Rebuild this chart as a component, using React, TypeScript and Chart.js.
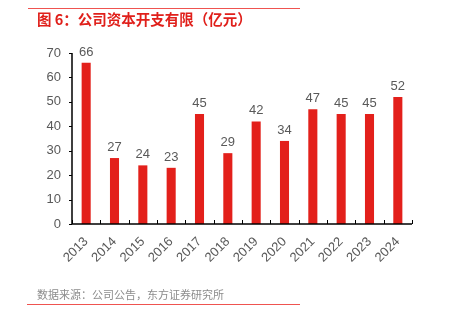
import React, { useEffect, useRef } from "react";
import { Chart, registerables } from "chart.js";

Chart.register(...registerables);

const categories = ["2013", "2014", "2015", "2016", "2017", "2018", "2019", "2020", "2021", "2022", "2023", "2024"];
const capex = [66, 27, 24, 23, 45, 29, 42, 34, 47, 45, 45, 52];
const yTicks = [0, 10, 20, 30, 40, 50, 60, 70];
const titleText = "图 6：公司资本开支有限（亿元）";
const sourceText = "数据来源：公司公告，东方证券研究所";

const RED = "#E3201B";
const GREY = "#595959";

const decorPlugin = {
  id: "decor",
  afterDraw(chart: any) {
    const ctx = chart.ctx;
    const xs = chart.scales.x;
    const ys = chart.scales.y;
    const area = chart.chartArea;
    ctx.save();
    ctx.strokeStyle = "#EF5350";
    ctx.lineWidth = 1.2;
    ctx.beginPath();
    ctx.moveTo(28, 8.5);
    ctx.lineTo(300, 8.5);
    ctx.moveTo(27, 304.5);
    ctx.lineTo(300, 304.5);
    ctx.stroke();
    ctx.fillStyle = "#E0201B";
    ctx.font = "bold 14.5px 'Noto Sans CJK SC', sans-serif";
    ctx.textBaseline = "middle";
    ctx.textAlign = "left";
    ctx.fillText(titleText, 37, 19);
    ctx.fillStyle = "#8C8C8C";
    ctx.font = "11px 'Noto Sans CJK SC', sans-serif";
    ctx.fillText(sourceText, 37, 295);
    ctx.strokeStyle = "#000";
    ctx.lineWidth = 1.5;
    ctx.beginPath();
    ctx.moveTo(area.left, ys.getPixelForValue(70));
    ctx.lineTo(area.left, area.bottom);
    ctx.lineTo(area.right, area.bottom);
    ctx.stroke();
    ctx.lineWidth = 1;
    ctx.beginPath();
    for (const v of yTicks) {
      const y = Math.round(ys.getPixelForValue(v)) + 0.5;
      ctx.moveTo(area.left - 3, y);
      ctx.lineTo(area.left, y);
    }
    for (let i = 0; i <= categories.length; i++) {
      const x = Math.round(xs.getPixelForValue(i - 0.5)) + 0.5;
      ctx.moveTo(x, area.bottom);
      ctx.lineTo(x, area.bottom - 4);
    }
    ctx.stroke();
    ctx.fillStyle = GREY;
    ctx.font = "13px 'Liberation Sans', Arial, sans-serif";
    ctx.textAlign = "center";
    ctx.textBaseline = "bottom";
    const meta = chart.getDatasetMeta(0);
    meta.data.forEach((bar: any, i: number) => {
      ctx.fillText(String(capex[i]), bar.x, bar.y - 4);
    });
    ctx.restore();
  },
};

export default function App() {
  const ref = useRef<HTMLCanvasElement | null>(null);
  useEffect(() => {
    if (!ref.current) return;
    const chart = new Chart(ref.current, {
      type: "bar",
      data: {
        labels: categories,
        datasets: [
          {
            data: capex,
            backgroundColor: RED,
            barPercentage: 0.32,
            categoryPercentage: 1,
          },
        ],
      },
      options: {
        animation: false,
        responsive: false,
        devicePixelRatio: 1,
        layout: { padding: { left: 32, right: 43, top: 53, bottom: 49 } },
        plugins: { legend: { display: false }, tooltip: { enabled: false } },
        scales: {
          x: {
            grid: { display: false },
            border: { display: false },
            ticks: {
              color: GREY,
              font: { size: 13, family: "'Liberation Sans', Arial, sans-serif" },
              minRotation: 45,
              maxRotation: 45,
              padding: 2,
              autoSkip: false,
            },
            afterFit(scale: any) {
              scale.height = 50;
            },
          },
          y: {
            min: 0,
            max: 70,
            grid: { display: false },
            border: { display: false },
            ticks: {
              stepSize: 10,
              color: GREY,
              font: { size: 13, family: "'Liberation Sans', Arial, sans-serif" },
              padding: 3,
            },
            afterFit(scale: any) {
              scale.width = 40;
            },
          },
        },
      },
      plugins: [decorPlugin],
    });
    return () => chart.destroy();
  }, []);
  return (
    <div style={{ position: "fixed", left: 0, top: 0, width: 455, height: 323, background: "#fff" }}>
      <canvas ref={ref} width={455} height={323} style={{ width: 455, height: 323 }} />
    </div>
  );
}
